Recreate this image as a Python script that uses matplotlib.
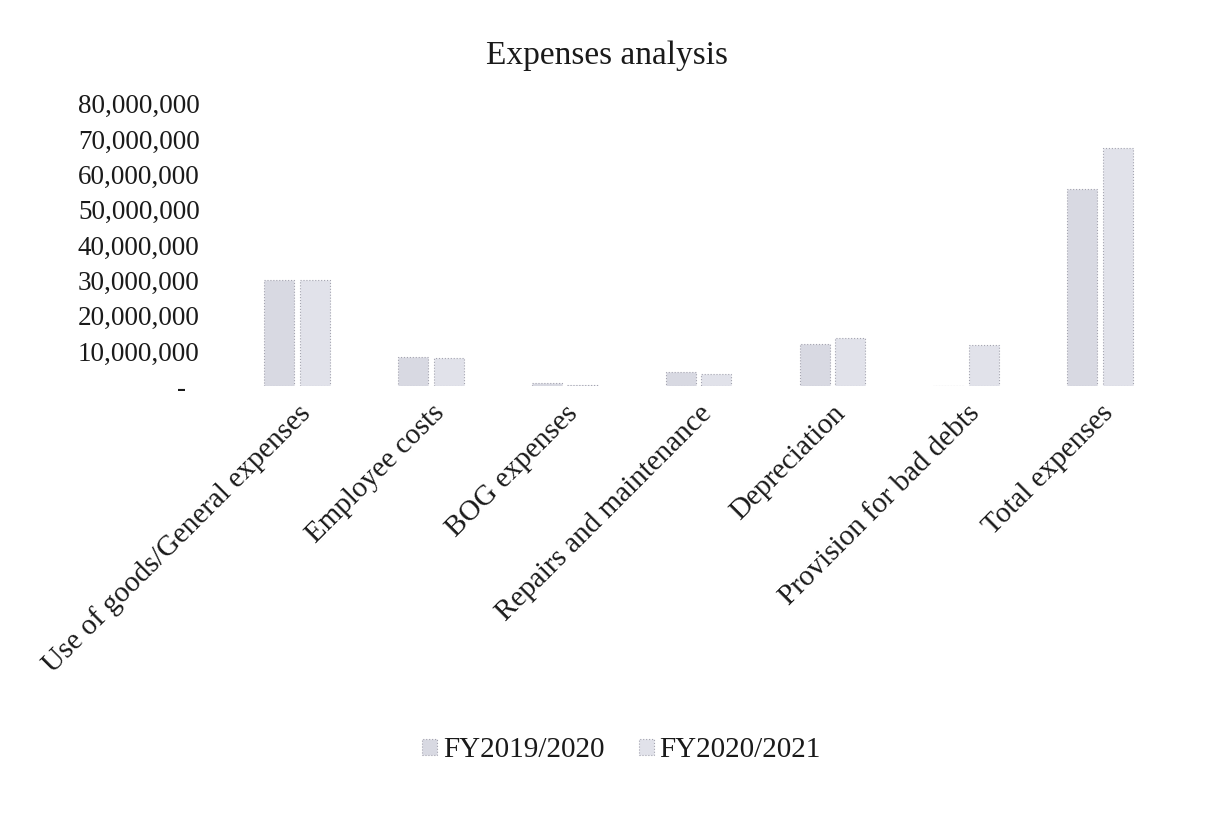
import matplotlib
matplotlib.use("Agg")
import matplotlib.pyplot as plt
import numpy as np
from matplotlib.ticker import FuncFormatter

categories = ["Use of goods/General expenses", "Employee costs", "BOG expenses",
              "Repairs and maintenance", "Depreciation", "Provision for bad debts",
              "Total expenses"]
fy2019 = [30000000, 8300000, 1000000, 4000000, 12000000, 0, 56000000]
fy2020 = [30200000, 8000000, 500000, 3500000, 13600000, 11700000, 67500000]
series_names = ["FY2019/2020", "FY2020/2021"]
yticks = [0, 10000000, 20000000, 30000000, 40000000, 50000000, 60000000, 70000000, 80000000]

plt.rcParams['font.family'] = ['Liberation Serif', 'DejaVu Serif']

fig = plt.figure(figsize=(12.31, 8.31), dpi=100)
ax = fig.add_axes([0.187, 0.535, 0.761, 0.34])

x = np.arange(len(categories))
w = 0.225
gap = 0.04
b1 = ax.bar(x - w/2 - gap/2, fy2019, w, color='#d8d9e2', edgecolor='#a4a4b0',
            linewidth=0.8, linestyle=':', label=series_names[0])
b2 = ax.bar(x + w/2 + gap/2, fy2020, w, color='#e1e2ea', edgecolor='#a4a4b0',
            linewidth=0.8, linestyle=':', label=series_names[1])

ax.set_xlim(-0.5, len(categories) - 0.5)
ax.set_ylim(0, 80000000)
ax.set_yticks(yticks)
ax.yaxis.set_major_formatter(FuncFormatter(lambda v, p: "-" + "\u2007" if v == 0 else f"{int(v):,}"))
ax.tick_params(axis='y', length=0, pad=22, labelsize=19.5, labelcolor='#1a1a1a')
ax.set_xticks(x + 0.0)
ax.set_xticklabels(categories, rotation=45, ha='right', rotation_mode='anchor',
                   fontsize=21, color='#1a1a1a')
ax.tick_params(axis='x', length=0, pad=10)
for s in ax.spines.values():
    s.set_visible(False)

fig.text(0.493, 0.933, "Expenses analysis", ha='center', va='center', fontsize=24, color='#1a1a1a')

leg = fig.legend(handles=[b1, b2], labels=series_names, loc='center',
                 bbox_to_anchor=(0.505, 0.097), ncol=2, frameon=False, fontsize=21,
                 handlelength=0.5, handleheight=0.5, handletextpad=0.2, columnspacing=1.2)
for t in leg.get_texts():
    t.set_color('#1a1a1a')

fig.savefig("out.png", dpi=100, facecolor='white')
